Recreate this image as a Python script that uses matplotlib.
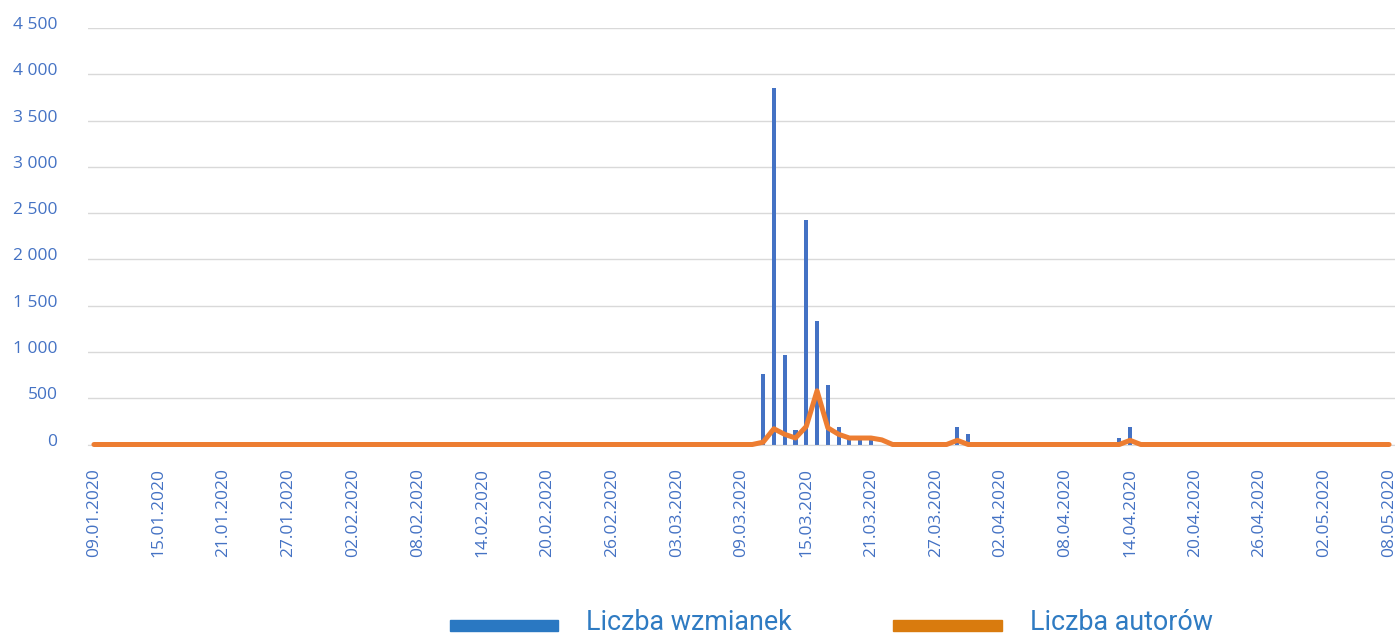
import numpy as np
import pandas as pd
import matplotlib.pyplot as plt
from matplotlib.patches import Rectangle
from matplotlib.ticker import FuncFormatter
from matplotlib.transforms import ScaledTranslation

plt.rcParams['font.family'] = ['Open Sans', 'DejaVu Sans']

# dni od 09.01.2020 do 08.05.2020
dates = pd.date_range('2020-01-09', '2020-05-08', freq='D')
labels = dates.strftime('%d.%m.%Y')

wzmianki = [
    10, 0, 10, 10, 0, 10, 10, 10, 10, 10,
    10, 0, 0, 10, 0, 10, 10, 0, 10, 0,
    10, 10, 10, 10, 10, 0, 10, 10, 10, 10,
    0, 10, 10, 10, 0, 10, 10, 10, 0, 0,
    0, 0, 0, 0, 0, 10, 0, 10, 10, 0,
    10, 10, 10, 10, 10, 0, 10, 10, 10, 10,
    10, 10, 766, 3850, 965, 155, 2430, 1330, 640, 190,
    65, 65, 65, 0, 10, 10, 10, 10, 10, 10,
    190, 110, 10, 10, 10, 10, 10, 10, 10, 10,
    10, 10, 10, 10, 10, 65, 190, 10, 10, 10,
    10, 10, 10, 10, 10, 0, 0, 10, 10, 10,
    0, 10, 10, 10, 0, 0, 15, 10, 0, 0,
    10,
]

autorzy = [
    0, 0, 0, 0, 0, 0, 0, 0, 0, 0,
    0, 0, 0, 0, 0, 0, 0, 0, 0, 0,
    0, 0, 0, 0, 0, 0, 0, 0, 0, 0,
    0, 0, 0, 0, 0, 0, 0, 0, 0, 0,
    0, 0, 0, 0, 0, 0, 0, 0, 0, 0,
    0, 0, 0, 0, 0, 0, 0, 0, 0, 0,
    0, 0, 25, 170, 110, 70, 195, 580, 180, 110,
    70, 70, 70, 50, 0, 0, 0, 0, 0, 0,
    45, 0, 0, 0, 0, 0, 0, 0, 0, 0,
    0, 0, 0, 0, 0, 0, 45, 0, 0, 0,
    0, 0, 0, 0, 0, 0, 0, 0, 0, 0,
    0, 0, 0, 0, 0, 0, 0, 0, 0, 0,
    0,
]

blue = '#4472C4'
orange = '#ED7D31'

W, H = 1395, 634
fig = plt.figure(figsize=(W / 100, H / 100), dpi=100)
ax = fig.add_axes([88 / W, 1 - 444.5 / H, (1395 - 88) / W, (444.5 - 28) / H])

x = np.arange(len(dates))
ax.bar(x, wzmianki, width=0.38, color=blue, zorder=2)
ax.plot(x, autorzy, color=orange, lw=3.6, solid_joinstyle='round',
        solid_capstyle='round', zorder=3, clip_on=False)

ax.set_xlim(-0.55, len(dates) - 0.45)
ax.set_ylim(0, 4500)
ax.set_yticks(np.arange(0, 4501, 500))
ax.yaxis.set_major_formatter(FuncFormatter(lambda v, p: f'{int(v):,}'.replace(',', ' ')))
ax.grid(axis='y', color='#D9D9D9', lw=1)
ax.set_axisbelow(True)
for s in ax.spines.values():
    s.set_visible(False)
ax.spines['bottom'].set_visible(True)
ax.spines['bottom'].set_color('#D9D9D9')

ax.set_xticks(x[::6])
ax.set_xticklabels(labels[::6], rotation=90)
ax.tick_params(axis='x', length=0, pad=17, labelsize=12.5, labelcolor=blue)
ax.tick_params(axis='y', length=0, pad=22, labelsize=12.5, labelcolor=blue)

# etykiety osi Y lekko nad liniami siatki
shift = ScaledTranslation(0, 5 / 100, fig.dpi_scale_trans)
for t in ax.get_yticklabels():
    t.set_transform(t.get_transform() + shift)

# legenda pod wykresem
fig.add_artist(Rectangle((450 / W, (H - 631) / H), 108 / W, 11 / H,
                         transform=fig.transFigure, color='#2A78C2'))
fig.text(586 / W, (H - 630) / H, 'Liczba wzmianek', fontsize=19.4,
         family=['Roboto', 'DejaVu Sans'], color='#2F7BC2', va='baseline')
fig.add_artist(Rectangle((893 / W, (H - 631) / H), 109 / W, 11 / H,
                         transform=fig.transFigure, color='#D97B0E'))
fig.text(1030 / W, (H - 630) / H, 'Liczba autorów', fontsize=19.4,
         family=['Roboto', 'DejaVu Sans'], color='#2F7BC2', va='baseline')

fig.savefig('out.png', dpi=100)
